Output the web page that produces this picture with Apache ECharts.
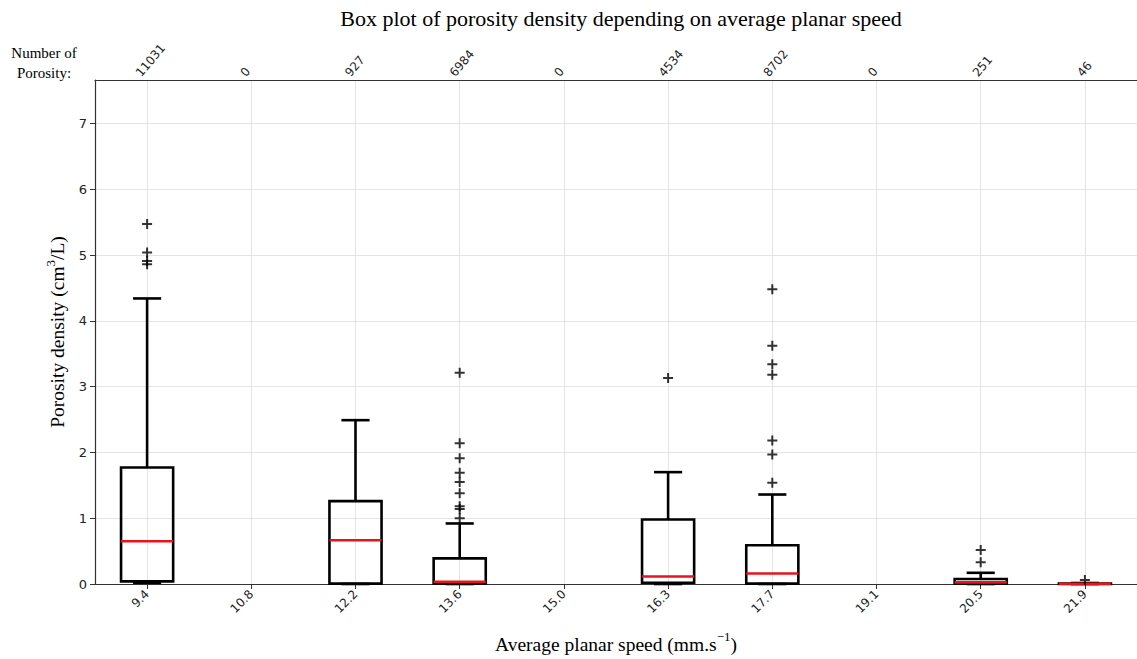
<!DOCTYPE html>
<html><head><meta charset="utf-8">
<script src="https://cdn.jsdelivr.net/npm/echarts@6/dist/echarts.min.js"></script>
<style>html,body{margin:0;padding:0;background:#fff}#c{width:1137px;height:659px}</style>
</head><body><div id="c"></div>
<script>
const speeds = ['9.4','10.8','12.2','13.6','15.0','16.3','17.7','19.1','20.5','21.9'];
const counts = ['11031','0','927','6984','0','4534','8702','0','251','46'];
const yTicks = [0,1,2,3,4,5,6,7];
// box statistics per speed (null = no data)
const whiskerLow  = [0.02, null, 0,     0,     null, 0,     0,     null, 0,     0];
const q1          = [0.04, null, 0.005, 0.01,  null, 0.02,  0.005, null, 0.005, 0];
const median      = [0.65, null, 0.665, 0.035, null, 0.115, 0.16,  null, 0.025, 0.004];
const q3          = [1.77, null, 1.26,  0.39,  null, 0.98,  0.59,  null, 0.075, 0.008];
const whiskerHigh = [4.34, null, 2.49,  0.92,  null, 1.70,  1.36,  null, 0.17,  0.015];
const outliers = [
  [5.47, 5.04, 4.91, 4.86], [], [],
  [3.21, 2.14, 1.91, 1.69, 1.55, 1.38, 1.18, 1.14, 1.0], [],
  [3.13],
  [4.48, 3.62, 3.34, 3.18, 2.18, 1.97, 1.54], [],
  [0.515, 0.33],
  [0.06]
];

const boxData = [];
speeds.forEach((s, i) => {
  if (median[i] != null) boxData.push([i, whiskerLow[i], q1[i], median[i], q3[i], whiskerHigh[i]]);
});
const outlierData = [];
outliers.forEach((arr, i) => arr.forEach(v => outlierData.push([i, v])));

const chart = echarts.init(document.getElementById('c'), null, {renderer: 'svg'});
const tickFont = 'DejaVu Sans';
const serif = 'Liberation Serif';
const nameRich = {
  a: {fontSize: 19.5, fontFamily: serif, color: '#000', lineHeight: 24, verticalAlign: 'bottom'},
  s: {fontSize: 13, fontFamily: serif, color: '#000', lineHeight: 24, verticalAlign: 'top'}
};

chart.setOption({
  backgroundColor: '#fff',
  animation: false,
  graphic: [
    {type: 'text', x: 621, y: 18, style: {text: 'Box plot of porosity density depending on average planar speed',
      fontSize: 22, fontFamily: serif, fill: '#000', align: 'center', verticalAlign: 'middle'}},
    {type: 'text', x: 44, y: 53, style: {text: 'Number of', fontSize: 15, fontFamily: serif, fill: '#000', align: 'center', verticalAlign: 'middle'}},
    {type: 'text', x: 44, y: 73, style: {text: 'Porosity:', fontSize: 15, fontFamily: serif, fill: '#000', align: 'center', verticalAlign: 'middle'}}
  ],
  grid: [
    {left: 95, top: 80, width: 1046, bottom: 69, containLabel: false},
    {left: 86, top: 80, width: 1046, height: 2, containLabel: false}
  ],
  xAxis: [
    {
      type: 'category', data: speeds, position: 'bottom', boundaryGap: true, gridIndex: 0,
      axisLine: {show: true, lineStyle: {color: '#333', width: 1.2}},
      axisTick: {show: true, alignWithLabel: true, length: 5, lineStyle: {color: '#333'}},
      axisLabel: {rotate: 45, margin: 8, fontSize: 12, fontFamily: tickFont, color: '#222'},
      splitLine: {show: true, alignWithLabel: true, lineStyle: {color: '#e4e4e4', width: 1}},
      name: '{a|Average planar speed (mm.s}{s|−1}{a|)}',
      nameLocation: 'middle', nameGap: 46,
      nameTextStyle: {rich: nameRich}
    },
    {
      type: 'category', data: speeds, position: 'top', boundaryGap: true, gridIndex: 0,
      axisLine: {show: true, onZero: false, lineStyle: {color: '#333', width: 1.2}},
      axisTick: {show: false}, axisLabel: {show: false}, splitLine: {show: false}
    },
    {
      type: 'category', data: counts, position: 'top', boundaryGap: true, gridIndex: 1,
      axisLine: {show: false, onZero: false},
      axisTick: {show: false},
      axisLabel: {rotate: -50, margin: 5, fontSize: 12, fontFamily: tickFont, color: '#222'},
      splitLine: {show: false}
    }
  ],
  yAxis: [
    {
      type: 'value', min: 0, max: 7.66, interval: 1, gridIndex: 0,
      axisLine: {show: true, lineStyle: {color: '#333', width: 1.2}},
      axisTick: {show: true, length: 5, lineStyle: {color: '#333'}},
      axisLabel: {margin: 8, fontSize: 13, fontFamily: tickFont, color: '#222', showMaxLabel: false,
        formatter: v => (yTicks.indexOf(v) >= 0 ? String(v) : '')},
      splitLine: {show: true, lineStyle: {color: '#e4e4e4', width: 1}},
      name: '{a|Porosity density (cm}{s|3}{a|/L)}',
      nameLocation: 'middle', nameGap: 27, nameRotate: 90,
      nameTextStyle: {rich: nameRich}
    },
    {type: 'value', gridIndex: 1, min: 0, max: 1, show: false}
  ],
  series: [
    {
      type: 'custom', name: 'box', xAxisIndex: 0, yAxisIndex: 0,
      data: boxData, encode: {x: 0, y: [1, 2, 3, 4, 5]}, z: 3, clip: false,
      renderItem: function (params, api) {
        const idx = api.value(0);
        const band = api.size([1, 0])[0];
        const bw = band * 0.5, cw = band * 0.27;
        const pLow = api.coord([idx, api.value(1)]);
        const pQ1 = api.coord([idx, api.value(2)]);
        const pMed = api.coord([idx, api.value(3)]);
        const pQ3 = api.coord([idx, api.value(4)]);
        const pHigh = api.coord([idx, api.value(5)]);
        const x = pMed[0];
        const blk = {stroke: '#000', lineWidth: 2.6, fill: null};
        return {type: 'group', children: [
          {type: 'line', shape: {x1: x, y1: pQ3[1], x2: x, y2: pHigh[1]}, style: blk},
          {type: 'line', shape: {x1: x, y1: pQ1[1], x2: x, y2: pLow[1]}, style: blk},
          {type: 'line', shape: {x1: x - cw / 2, y1: pHigh[1], x2: x + cw / 2, y2: pHigh[1]}, style: blk},
          {type: 'line', shape: {x1: x - cw / 2, y1: pLow[1], x2: x + cw / 2, y2: pLow[1]}, style: blk},
          {type: 'rect', shape: {x: x - bw / 2, y: pQ3[1], width: bw, height: pQ1[1] - pQ3[1]},
            style: {stroke: '#000', lineWidth: 2.6, fill: 'rgba(0,0,0,0)'}},
          {type: 'line', shape: {x1: x - bw / 2, y1: pMed[1], x2: x + bw / 2, y2: pMed[1]},
            style: {stroke: '#e8141b', lineWidth: 2.6}}
        ]};
      }
    },
    {
      type: 'scatter', name: 'outliers', xAxisIndex: 0, yAxisIndex: 0,
      data: outlierData, z: 4,
      symbol: 'path://M4,0H6V4H10V6H6V10H4V6H0V4H4Z', symbolSize: 10,
      itemStyle: {color: '#000'}
    }
  ]
});
</script></body></html>
